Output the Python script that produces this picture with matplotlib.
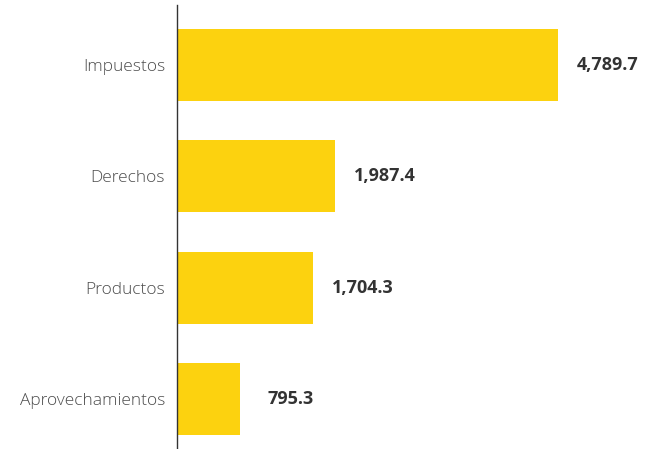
import matplotlib.pyplot as plt

categories = ['Impuestos', 'Derechos', 'Productos', 'Aprovechamientos']
values = [4789.7, 1987.4, 1704.3, 795.3]
labels = ['4,789.7', '1,987.4', '1,704.3', '795.3']

plt.rcParams['font.family'] = ['Open Sans', 'DejaVu Sans']

fig = plt.figure(figsize=(6.52, 4.49), dpi=100)
ax = fig.add_axes([177/652, 0, 430/652, 444/449])

y = range(len(categories))
ax.barh(y, values, height=0.647, color='#FCD20F')
ax.set_ylim(3.449, -0.539)
ax.set_xlim(0, 430*12.57)

# value labels, centred a bit right of each bar end
for yi, v, lab in zip(y, values, labels):
    ax.text(v + 50*12.57, yi, lab, ha='center', va='center', fontsize=13,
            fontweight='bold', color='#333333', clip_on=False)

ax.set_yticks(list(y))
ax.set_yticklabels(categories, fontsize=12.5, color='#4d4d4d', fontweight='light')
ax.tick_params(axis='y', length=0, pad=8.5)
ax.set_xticks([])
for s in ['top', 'right', 'bottom']:
    ax.spines[s].set_visible(False)
ax.spines['left'].set_color('#333333')
ax.spines['left'].set_linewidth(1.0)

plt.savefig('out.png', dpi=100)
